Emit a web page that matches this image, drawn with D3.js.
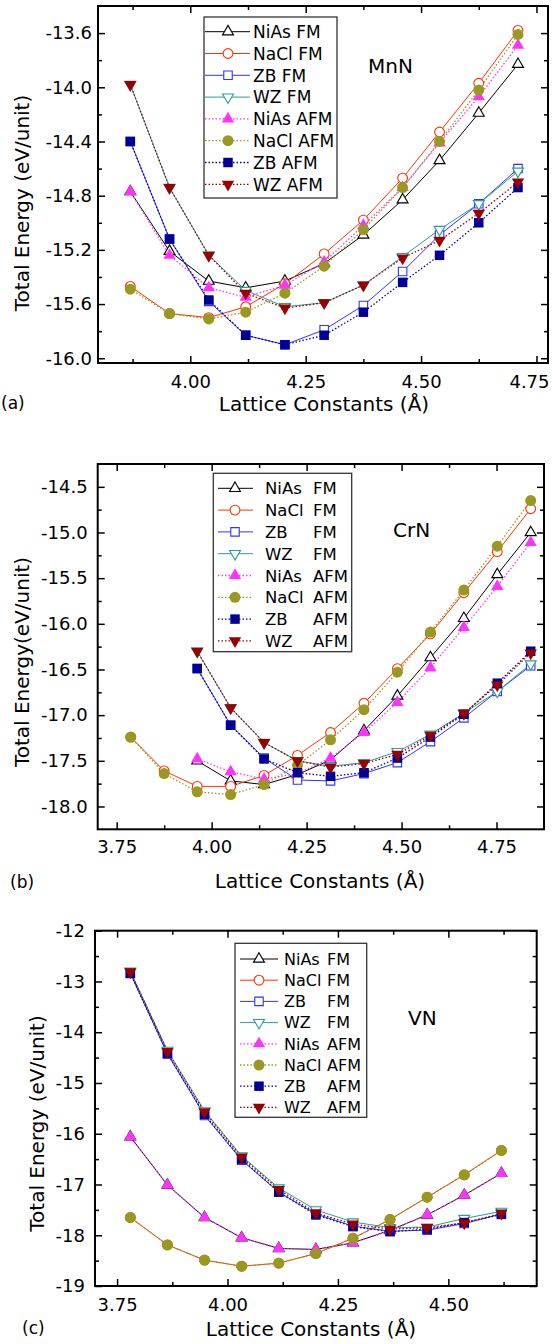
<!DOCTYPE html>
<html>
<head>
<meta charset="utf-8">
<script src="https://cdn.jsdelivr.net/npm/d3@7"></script>
<style>
  body { margin: 0; background: #fff; }
  text { font-family: "DejaVu Sans", sans-serif; fill: #000; }
</style>
</head>
<body>
<svg id="chart" width="553" height="1344"></svg>
<script>
// ---- data ----
var seriesNames = ['NiAs', 'NaCl', 'ZB', 'WZ', 'NiAs', 'NaCl', 'ZB', 'WZ'];
var seriesMag = ['FM', 'FM', 'FM', 'FM', 'AFM', 'AFM', 'AFM', 'AFM'];

// (a) MnN
var mnnLattice = [3.87, 3.955, 4.04, 4.12, 4.205, 4.29, 4.375, 4.46, 4.54, 4.625, 4.71];
var mnnNiAsFM  = [-14.77, -15.21, -15.43, -15.48, -15.43, -15.30, -15.09, -14.83, -14.54, -14.19, -13.83];
var mnnNaClFM  = [-15.47, -15.67, -15.70, -15.62, -15.45, -15.23, -14.98, -14.67, -14.33, -13.97, -13.58];
var mnnZBFM    = [-14.40, -15.12, -15.58, -15.83, -15.90, -15.79, -15.61, -15.36, -15.09, -14.86, -14.60];
var mnnWZFM    = [-13.98, -14.74, -15.24, -15.50, -15.62, -15.59, -15.46, -15.25, -15.05, -14.86, -14.62];
var mnnNiAsAFM = [-14.77, -15.24, -15.48, -15.55, -15.46, -15.29, -15.02, -14.74, -14.41, -14.07, -13.69];
var mnnNaClAFM = [-15.49, -15.67, -15.71, -15.66, -15.52, -15.32, -15.05, -14.74, -14.40, -14.02, -13.61];
var mnnZBAFM   = [-14.40, -15.12, -15.57, -15.83, -15.90, -15.83, -15.66, -15.44, -15.24, -15.00, -14.74];
var mnnWZAFM   = [-13.98, -14.74, -15.24, -15.52, -15.63, -15.59, -15.46, -15.26, -15.13, -14.93, -14.70];
var mnnYTicks = [-16.0, -15.6, -15.2, -14.8, -14.4, -14.0, -13.6];
var mnnXTicks = [4.00, 4.25, 4.50, 4.75];

// (b) CrN
var crnLattice = [3.787, 3.875, 3.962, 4.05, 4.138, 4.226, 4.313, 4.401, 4.489, 4.576, 4.664, 4.752, 4.84];
var crnNiAsFM  = [null, null, -17.50, -17.72, -17.76, -17.65, -17.49, -17.17, -16.79, -16.37, -15.94, -15.46, -15.00];
var crnNaClFM  = [-17.24, -17.61, -17.78, -17.78, -17.66, -17.44, -17.19, -16.87, -16.49, -16.11, -15.66, -15.21, -14.74];
var crnZBFM    = [null, null, -16.49, -17.11, -17.47, -17.71, -17.72, -17.64, -17.52, -17.29, -17.03, -16.74, -16.46];
var crnWZFM    = [null, null, -16.30, -16.92, -17.30, -17.50, -17.56, -17.52, -17.40, -17.21, -16.98, -16.74, -16.44];
var crnNiAsAFM = [null, null, -17.48, -17.62, -17.70, -17.64, -17.47, -17.19, -16.86, -16.48, -16.04, -15.59, -15.11];
var crnNaClAFM = [-17.24, -17.64, -17.84, -17.87, -17.76, -17.55, -17.27, -16.94, -16.53, -16.09, -15.63, -15.15, -14.65];
var crnZBAFM   = [null, null, -16.49, -17.11, -17.48, -17.63, -17.67, -17.63, -17.47, -17.24, -16.99, -16.65, -16.30];
var crnWZAFM   = [null, null, -16.30, -16.92, -17.30, -17.50, -17.57, -17.53, -17.43, -17.22, -16.98, -16.67, -16.32];
var crnYTicks = [-18.0, -17.5, -17.0, -16.5, -16.0, -15.5, -15.0, -14.5];
var crnXTicks = [3.75, 4.00, 4.25, 4.50, 4.75];

// (c) VN
var vnLattice = [3.78, 3.864, 3.948, 4.032, 4.116, 4.2, 4.284, 4.368, 4.452, 4.536, 4.62];
var vnNiAsFM  = [-16.06, -17.01, -17.65, -18.05, -18.26, -18.28, -18.15, -17.90, -17.60, -17.21, -16.78];
var vnNaClFM  = [-17.65, -18.19, -18.49, -18.61, -18.55, -18.36, -18.06, -17.69, -17.25, -16.81, -16.33];
var vnZBFM    = [-12.84, -14.43, -15.64, -16.52, -17.15, -17.58, -17.82, -17.92, -17.90, -17.77, -17.58];
var vnWZFM    = [-12.80, -14.36, -15.55, -16.44, -17.07, -17.50, -17.74, -17.85, -17.84, -17.67, -17.53];
var vnNiAsAFM = [-16.06, -17.01, -17.65, -18.05, -18.26, -18.28, -18.15, -17.91, -17.60, -17.21, -16.78];
var vnNaClAFM = [-17.65, -18.19, -18.49, -18.61, -18.55, -18.36, -18.06, -17.69, -17.25, -16.81, -16.33];
var vnZBAFM   = [-12.84, -14.42, -15.62, -16.50, -17.15, -17.60, -17.83, -17.93, -17.88, -17.75, -17.59];
var vnWZAFM   = [-12.81, -14.38, -15.57, -16.46, -17.10, -17.56, -17.78, -17.88, -17.85, -17.76, -17.57];
var vnYTicks = [-19, -18, -17, -16, -15, -14, -13, -12];
var vnXTicks = [3.75, 4.00, 4.25, 4.50];

// ---- styles ----
var styles = [
  { color: '#000000', shape: 'up',     open: true },
  { color: '#ff3300', shape: 'circle', open: true },
  { color: '#3333ff', shape: 'square', open: true },
  { color: '#2a9d9d', shape: 'down',   open: true },
  { color: '#ff33ff', shape: 'up',     open: false },
  { color: '#999922', shape: 'circle', open: false },
  { color: '#000099', shape: 'square', open: false },
  { color: '#990000', shape: 'down',   open: false }
];

var panels = [
  {
    lattice: mnnLattice,
    values: [mnnNiAsFM, mnnNaClFM, mnnZBFM, mnnWZFM, mnnNiAsAFM, mnnNaClAFM, mnnZBAFM, mnnWZAFM],
    yTicks: mnnYTicks, xTicks: mnnXTicks, yDigits: 1,
    left: 98, right: 548, top: 6, bottom: 363,
    xDomain: [3.8, 4.775], yDomain: [-16.035, -13.4],
    xPad: 12, yPad: 6,
    yTitle: 'Total Energy (eV/unit)', yTitlePos: [29, 203],
    xTitlePos: [324, 411], tag: '(a)', tagPos: [1, 409],
    name: 'MnN', namePos: [368, 73],
    legend: { box: [204, 17, 337, 198], row0: 31.7, dy: 21.8, line: [205, 250], mark: 228, text: 253, col2: null, font: 17 }
  },
  {
    lattice: crnLattice,
    values: [crnNiAsFM, crnNaClFM, crnZBFM, crnWZFM, crnNiAsAFM, crnNaClAFM, crnZBAFM, crnWZAFM],
    yTicks: crnYTicks, xTicks: crnXTicks, yDigits: 1,
    left: 97.7, right: 544, top: 464, bottom: 829.3,
    xPad: 11, yPad: 10,
    xDomain: [3.70, 4.875], yDomain: [-18.25, -14.25],
    yTitle: 'Total Energy(eV/unit)', yTitlePos: [29, 662],
    xTitlePos: [320, 888], tag: '(b)', tagPos: [10, 888],
    name: 'CrN', namePos: [393, 537],
    legend: { box: [213.3, 473.3, 351.7, 651.7], row0: 488.3, dy: 21.8, line: [218, 253], mark: 235, text: 265, col2: 313, font: 16.5 }
  },
  {
    lattice: vnLattice,
    values: [vnNiAsFM, vnNaClFM, vnZBFM, vnWZFM, vnNiAsAFM, vnNaClAFM, vnZBAFM, vnWZAFM],
    yTicks: vnYTicks, xTicks: vnXTicks, yDigits: 0,
    left: 95, right: 536.7, top: 930.7, bottom: 1286,
    xDomain: [3.70, 4.70], yDomain: [-19, -12],
    xPad: 12, yPad: 10,
    yTitle: 'Total Energy (eV/unit)', yTitlePos: [43.5, 1123.5],
    xTitlePos: [311, 1336], tag: '(c)', tagPos: [22, 1334],
    name: 'VN', namePos: [408, 1025],
    legend: { box: [235, 943.3, 366.7, 1117.3], row0: 959, dy: 21.2, line: [240, 278], mark: 259, text: 284, col2: 327, font: 16 }
  }
];

var svg = d3.select('#chart');
var pageWidth = 553;

function symbolPath(shape, open) {
  var type = shape === 'circle' ? d3.symbolCircle : shape === 'square' ? d3.symbolSquare : d3.symbolTriangle;
  var size = shape === 'circle' ? (open ? 75 : 95) : shape === 'square' ? (open ? 72 : 90) : (open ? 52 : 66);
  return d3.symbol().type(type).size(size)();
}

// midpoints between majors, plus one step beyond each end if it fits
function minorTicks(majors, domain) {
  var step = majors[1] - majors[0];
  var out = [];
  var lo = Math.min(domain[0], domain[1]), hi = Math.max(domain[0], domain[1]);
  for (var i = -1; i < majors.length; i++) {
    var v = majors[0] + step * (i + 0.5);
    if (v > lo + 1e-6 && v < hi - 1e-6) out.push(v);
  }
  return out;
}

function drawMarker(g, x, y, s) {
  g.append('path')
    .attr('d', symbolPath(s.shape, s.open))
    .attr('transform', `translate(${x},${y})` + (s.shape === 'down' ? ' rotate(180)' : ''))
    .attr('fill', s.open ? '#fff' : s.color)
    .attr('stroke', s.open ? s.color : 'none')
    .attr('stroke-width', 1.1);
}

function drawPanel(p) {
  var g = svg.append('g');
  var x = d3.scaleLinear().domain(p.xDomain).range([p.left, p.right]);
  var y = d3.scaleLinear().domain(p.yDomain).range([p.bottom, p.top]);
  var w = p.right - p.left, h = p.bottom - p.top;

  var xMinor = minorTicks(p.xTicks, p.xDomain);
  var yMinor = minorTicks(p.yTicks, p.yDomain);

  // labelled axes, ticks pointing inward
  var xAxisG = g.append('g').attr('class', 'axis')
    .attr('transform', `translate(0,${p.bottom})`)
    .call(d3.axisBottom(x).tickValues(p.xTicks).tickSize(-7).tickPadding(p.xPad)
      .tickFormat(function(d) { return d.toFixed(2); }));
  g.append('g').attr('class', 'axis')
    .attr('transform', `translate(${p.left},0)`)
    .call(d3.axisLeft(y).tickValues(p.yTicks).tickSize(-7).tickPadding(p.yPad)
      .tickFormat(function(d) { return d.toFixed(p.yDigits); }));
  // mirrored ticks
  g.append('g').attr('class', 'axis')
    .attr('transform', `translate(0,${p.top})`)
    .call(d3.axisTop(x).tickValues(p.xTicks).tickSize(-7).tickFormat(''));
  g.append('g').attr('class', 'axis')
    .attr('transform', `translate(${p.right},0)`)
    .call(d3.axisRight(y).tickValues(p.yTicks).tickSize(-7).tickFormat(''));
  // minor ticks
  g.append('g').attr('class', 'axis').attr('transform', `translate(0,${p.bottom})`)
    .call(d3.axisBottom(x).tickValues(xMinor).tickSize(-4).tickFormat(''));
  g.append('g').attr('class', 'axis').attr('transform', `translate(0,${p.top})`)
    .call(d3.axisTop(x).tickValues(xMinor).tickSize(-4).tickFormat(''));
  g.append('g').attr('class', 'axis').attr('transform', `translate(${p.left},0)`)
    .call(d3.axisLeft(y).tickValues(yMinor).tickSize(-4).tickFormat(''));
  g.append('g').attr('class', 'axis').attr('transform', `translate(${p.right},0)`)
    .call(d3.axisRight(y).tickValues(yMinor).tickSize(-4).tickFormat(''));

  g.selectAll('.axis .domain').remove();
  g.selectAll('.axis line').attr('stroke', '#000').attr('stroke-width', 1.5);
  g.selectAll('.axis text').attr('font-size', 18).attr('font-family', '"DejaVu Sans", sans-serif').attr('fill', '#000');

  // keep the last x label inside the page, as the original does
  xAxisG.selectAll('text').each(function(d) {
    var half = this.getComputedTextLength() / 2;
    var over = x(d) + half - (pageWidth - 4);
    if (over > 0) d3.select(this).attr('dx', -over);
  });

  // frame
  g.append('rect')
    .attr('x', p.left).attr('y', p.top).attr('width', w).attr('height', h)
    .attr('fill', 'none').attr('stroke', '#000').attr('stroke-width', 2);

  // lines
  var line = d3.line()
    .defined(function(d) { return d[1] !== null; })
    .x(function(d) { return x(d[0]); })
    .y(function(d) { return y(d[1]); });

  p.values.forEach(function(vals, i) {
    var s = styles[i];
    var pts = p.lattice.map(function(l, j) { return [l, vals[j]]; });
    g.append('path')
      .datum(pts)
      .attr('d', line)
      .attr('fill', 'none')
      .attr('stroke', s.color)
      .attr('stroke-width', s.open ? 1 : 1.3)
      .attr('stroke-dasharray', s.open ? null : '1.5,2');
  });

  // markers
  p.values.forEach(function(vals, i) {
    var s = styles[i];
    p.lattice.forEach(function(l, j) {
      if (vals[j] === null) return;
      drawMarker(g, x(l), y(vals[j]), s);
    });
  });

  // legend
  var L = p.legend;
  g.append('rect')
    .attr('x', L.box[0]).attr('y', L.box[1])
    .attr('width', L.box[2] - L.box[0]).attr('height', L.box[3] - L.box[1])
    .attr('fill', '#fff').attr('stroke', '#333').attr('stroke-width', 1.3);
  styles.forEach(function(s, i) {
    var ry = L.row0 + i * L.dy;
    g.append('line')
      .attr('x1', L.line[0]).attr('x2', L.line[1]).attr('y1', ry).attr('y2', ry)
      .attr('stroke', s.color).attr('stroke-width', s.open ? 1 : 1.3)
      .attr('stroke-dasharray', s.open ? null : '1.5,2');
    drawMarker(g, L.mark, ry, s);
    var base = ry + L.font * 0.365;
    if (L.col2 === null) {
      g.append('text').attr('x', L.text).attr('y', base)
        .attr('font-size', L.font).text(seriesNames[i] + ' ' + seriesMag[i]);
    } else {
      g.append('text').attr('x', L.text).attr('y', base)
        .attr('font-size', L.font).text(seriesNames[i]);
      g.append('text').attr('x', L.col2).attr('y', base)
        .attr('font-size', L.font).text(seriesMag[i]);
    }
  });

  // titles
  g.append('text').attr('x', p.namePos[0]).attr('y', p.namePos[1])
    .attr('font-size', 20).text(p.name);
  g.append('text')
    .attr('transform', `translate(${p.yTitlePos[0]},${p.yTitlePos[1]}) rotate(-90)`)
    .attr('text-anchor', 'middle').attr('font-size', 20).text(p.yTitle);
  g.append('text').attr('x', p.xTitlePos[0]).attr('y', p.xTitlePos[1])
    .attr('text-anchor', 'middle').attr('font-size', 20).text('Lattice Constants (Å)');
  g.append('text').attr('x', p.tagPos[0]).attr('y', p.tagPos[1])
    .attr('font-size', 17).text(p.tag);
}

panels.forEach(drawPanel);
</script>
</body>
</html>
